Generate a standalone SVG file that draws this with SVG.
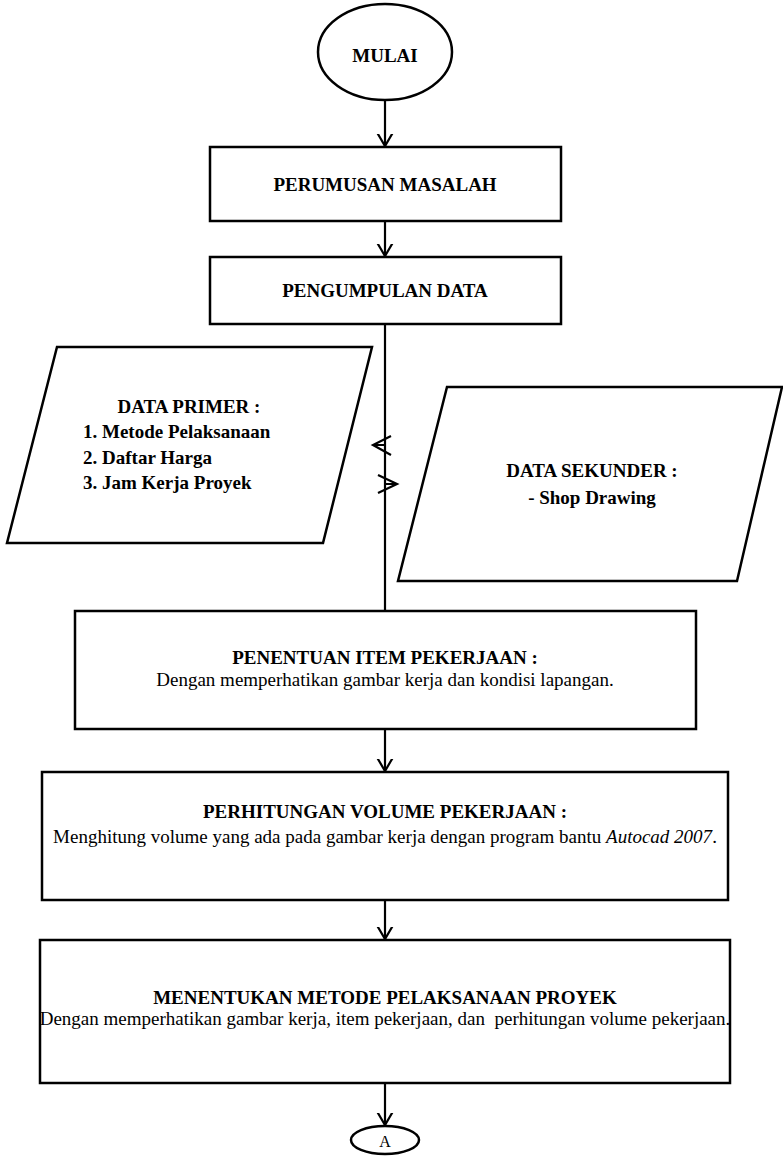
<svg xmlns="http://www.w3.org/2000/svg" width="783" height="1156" viewBox="0 0 783 1156">
<style>
  .shape { fill: #fff; stroke: #000; stroke-width: 2.5; }
  .conn { fill: none; stroke: #000; stroke-width: 2.2; }
  .head { fill: none; stroke: #000; stroke-width: 2.2; stroke-linejoin: miter; }
  text { font-family: "Liberation Serif", "Times New Roman", serif; font-size: 19px; fill: #000; }
  .b { font-weight: bold; }
  .c { text-anchor: middle; }
  .pre { white-space: pre; }
</style>
<defs>
  <marker id="arr" viewBox="-12 -12 24 24" markerWidth="24" markerHeight="24" refX="0" refY="0" orient="auto" markerUnits="userSpaceOnUse">
    <path d="M -17 -10 L 0 0 L -17 10" fill="none" stroke="#000" stroke-width="2.2"/>
  </marker>
</defs>

<g id="connectors">
  <line class="conn" x1="385" y1="100" x2="385" y2="146" marker-end="url(#arr)"/>
  <line class="conn" x1="385" y1="221" x2="385" y2="256" marker-end="url(#arr)"/>
  <line class="conn" x1="385" y1="324" x2="385" y2="611"/>
  <line class="conn" x1="385" y1="729" x2="385" y2="771" marker-end="url(#arr)"/>
  <line class="conn" x1="385" y1="900" x2="385" y2="939" marker-end="url(#arr)"/>
  <line class="conn" x1="385" y1="1083" x2="385" y2="1125" marker-end="url(#arr)"/>
  <path class="head" d="M 391 436 L 373 445 L 391 455 M 373 445 L 385 445"/>
  <path class="head" d="M 378 475 L 397 484 L 378 493 M 385 484 L 397 484"/>
</g>

<g id="mulai">
  <ellipse class="shape" cx="385" cy="52" rx="67" ry="48"/>
  <text class="b c" x="385" y="62">MULAI</text>
</g>

<g id="perumusan">
  <rect class="shape" x="210" y="147" width="351" height="74"/>
  <text class="b c" x="385" y="191">PERUMUSAN MASALAH</text>
</g>

<g id="pengumpulan">
  <rect class="shape" x="210" y="257" width="351" height="67"/>
  <text class="b c" x="385" y="297">PENGUMPULAN DATA</text>
</g>

<g id="data-primer">
  <polygon class="shape" points="57,347 372,347 323,543 7,543"/>
  <text class="b c" x="189" y="413">DATA PRIMER :</text>
  <text class="b" x="83" y="438">1. Metode Pelaksanaan</text>
  <text class="b" x="83" y="464">2. Daftar Harga</text>
  <text class="b" x="83" y="489">3. Jam Kerja Proyek</text>
</g>

<g id="data-sekunder">
  <polygon class="shape" points="447,387 782,387 737,581 398,581"/>
  <text class="b c" x="592" y="477">DATA SEKUNDER :</text>
  <text class="b c" x="592" y="504">- Shop Drawing</text>
</g>

<g id="penentuan">
  <rect class="shape" x="75" y="611" width="621" height="118"/>
  <text class="b c" x="385" y="664">PENENTUAN ITEM PEKERJAAN :</text>
  <text class="c" x="385" y="686">Dengan memperhatikan gambar kerja dan kondisi lapangan.</text>
</g>

<g id="perhitungan">
  <rect class="shape" x="42" y="772" width="686" height="128"/>
  <text class="b c" x="385" y="818">PERHITUNGAN VOLUME PEKERJAAN :</text>
  <text class="c" x="385" y="843">Menghitung volume yang ada pada gambar kerja dengan program bantu <tspan font-style="italic">Autocad 2007</tspan>.</text>
</g>

<g id="menentukan">
  <rect class="shape" x="40" y="940" width="690" height="143"/>
  <text class="b c" x="385" y="1004">MENENTUKAN METODE PELAKSANAAN PROYEK</text>
  <text class="c pre" x="385" y="1025">Dengan memperhatikan gambar kerja, item pekerjaan, dan  perhitungan volume pekerjaan.</text>
</g>

<g id="a">
  <ellipse class="shape" cx="385" cy="1140" rx="34" ry="14"/>
  <text class="c" x="385" y="1147" style="font-size:16px">A</text>
</g>
</svg>
